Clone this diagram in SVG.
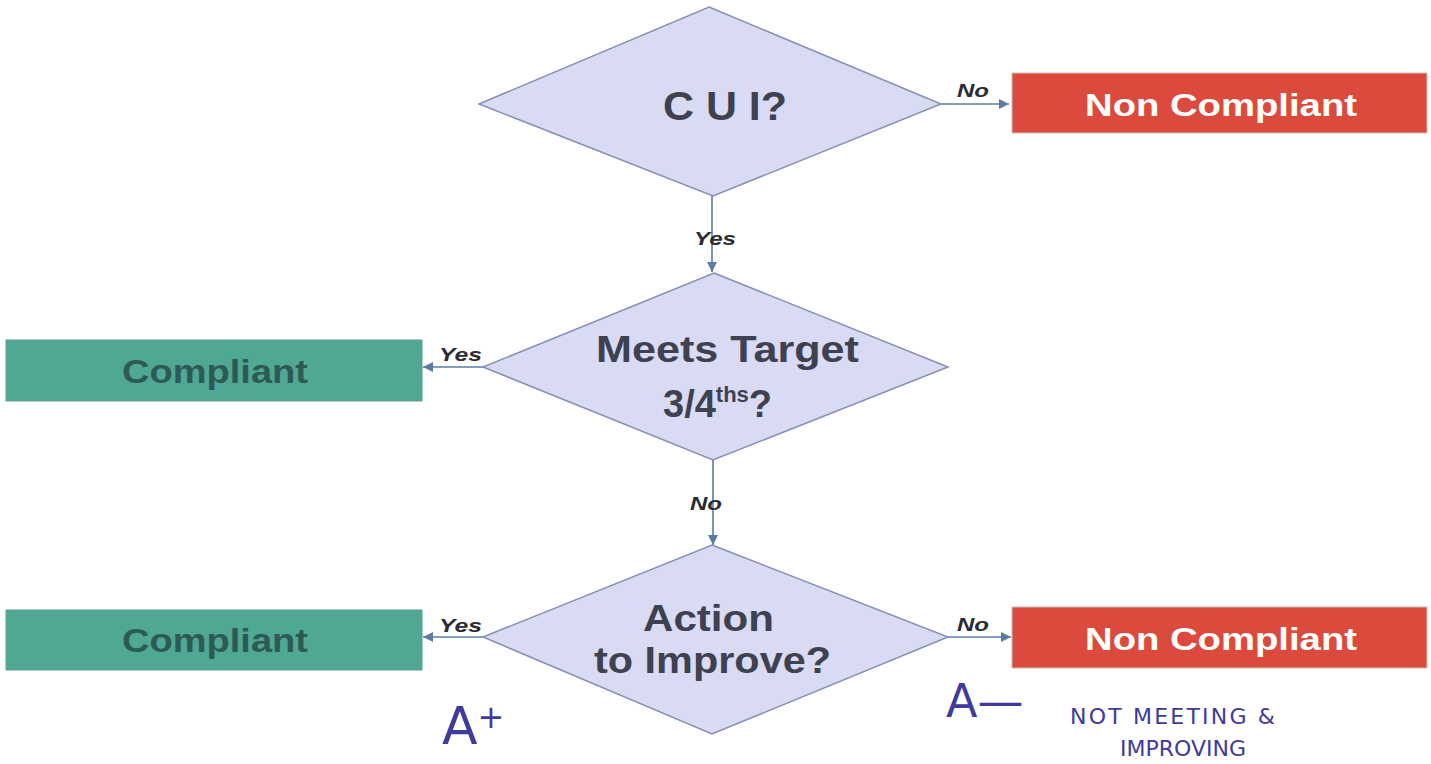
<svg xmlns="http://www.w3.org/2000/svg" width="1431" height="764" viewBox="0 0 1431 764">
<defs>
<marker id="ah" viewBox="0 0 10 10" refX="10" refY="5" markerWidth="10" markerHeight="10" markerUnits="userSpaceOnUse" orient="auto">
<path d="M0,0 L10,5 L0,10 Z" fill="#5a7ca3"/>
</marker>
<style>
.dia{fill:#d9daf4;stroke:#8590b5;stroke-width:1.5}
.red{fill:#dc4a3d;stroke:#c8c0b8;stroke-width:1}
.teal{fill:#4ea894;stroke:#5f9f90;stroke-width:1}
.dt{font-family:"Liberation Sans",Arial,sans-serif;font-weight:bold;fill:#3d4150}
.wt{font-family:"Liberation Sans",Arial,sans-serif;font-weight:bold;fill:#ffffff;font-size:32px}
.gt{font-family:"Liberation Sans",Arial,sans-serif;font-weight:bold;fill:#2e5a55;font-size:33px}
.lbl{font-family:"Liberation Sans",Arial,sans-serif;font-weight:bold;font-style:italic;fill:#2b2b33;font-size:18px}
.con{stroke:#5a7ca3;stroke-width:1.6;fill:none;marker-end:url(#ah)}
.hw{font-family:"DejaVu Sans",sans-serif;fill:#3f3a9c}
</style>
</defs>
<rect width="1431" height="764" fill="#ffffff"/>
<g id="connectors">
<line class="con" x1="941" y1="104" x2="1009" y2="104"/>
<line class="con" x1="712" y1="196" x2="712" y2="272"/>
<line class="con" x1="483" y1="367" x2="423" y2="367"/>
<line class="con" x1="713" y1="460" x2="713" y2="545"/>
<line class="con" x1="483" y1="637" x2="423" y2="637"/>
<line class="con" x1="948" y1="637" x2="1011" y2="637"/>
<text class="lbl" x="957" y="97" textLength="32" lengthAdjust="spacingAndGlyphs">No</text>
<text class="lbl" x="694" y="245" textLength="42" lengthAdjust="spacingAndGlyphs">Yes</text>
<text class="lbl" x="439" y="361" textLength="43" lengthAdjust="spacingAndGlyphs">Yes</text>
<text class="lbl" x="690" y="510" textLength="32" lengthAdjust="spacingAndGlyphs">No</text>
<text class="lbl" x="439" y="632" textLength="43" lengthAdjust="spacingAndGlyphs">Yes</text>
<text class="lbl" x="957" y="631" textLength="32" lengthAdjust="spacingAndGlyphs">No</text>
</g>
<g id="cui">
<polygon class="dia" points="709,7 941,104 713,196 479,104"/>
<text class="dt" x="663" y="120" font-size="40" textLength="124" lengthAdjust="spacingAndGlyphs">C U I?</text>
</g>
<g id="nc1">
<rect class="red" x="1012" y="73" width="415" height="60"/>
<text class="wt" x="1085" y="116" textLength="272" lengthAdjust="spacingAndGlyphs">Non Compliant</text>
</g>
<g id="meets">
<polygon class="dia" points="714,273 948,367 713,460 483,367"/>
<text class="dt" x="596" y="362" font-size="37" textLength="263" lengthAdjust="spacingAndGlyphs">Meets Target</text>
<text class="dt" x="663" y="417" font-size="38">3/4<tspan font-size="22" dy="-15">ths</tspan><tspan dy="15">?</tspan></text>
</g>
<g id="c1">
<rect class="teal" x="6" y="340" width="416" height="61"/>
<text class="gt" x="122" y="383" textLength="186" lengthAdjust="spacingAndGlyphs">Compliant</text>
</g>
<g id="action">
<polygon class="dia" points="712,545 948,637 712,734 483,637"/>
<text class="dt" x="643" y="631" font-size="37" textLength="131" lengthAdjust="spacingAndGlyphs">Action</text>
<text class="dt" x="594" y="673" font-size="37" textLength="237" lengthAdjust="spacingAndGlyphs">to Improve?</text>
</g>
<g id="c2">
<rect class="teal" x="6" y="610" width="416" height="60"/>
<text class="gt" x="122" y="652" textLength="186" lengthAdjust="spacingAndGlyphs">Compliant</text>
</g>
<g id="nc2">
<rect class="red" x="1012" y="607" width="415" height="61"/>
<text class="wt" x="1085" y="650" textLength="272" lengthAdjust="spacingAndGlyphs">Non Compliant</text>
</g>
<g id="notes">
<text class="hw" x="442" y="744" font-size="52">A<tspan font-size="32" dy="-16">+</tspan></text>
<text class="hw" x="946" y="717" font-size="46">A<tspan font-size="46">—</tspan></text>
<text class="hw" x="1070" y="724" font-size="22" textLength="205" lengthAdjust="spacing">NOT  MEETING    &amp;</text>
<text class="hw" x="1120" y="756" font-size="22" textLength="126" lengthAdjust="spacing">IMPROVING</text>
</g>
</svg>
